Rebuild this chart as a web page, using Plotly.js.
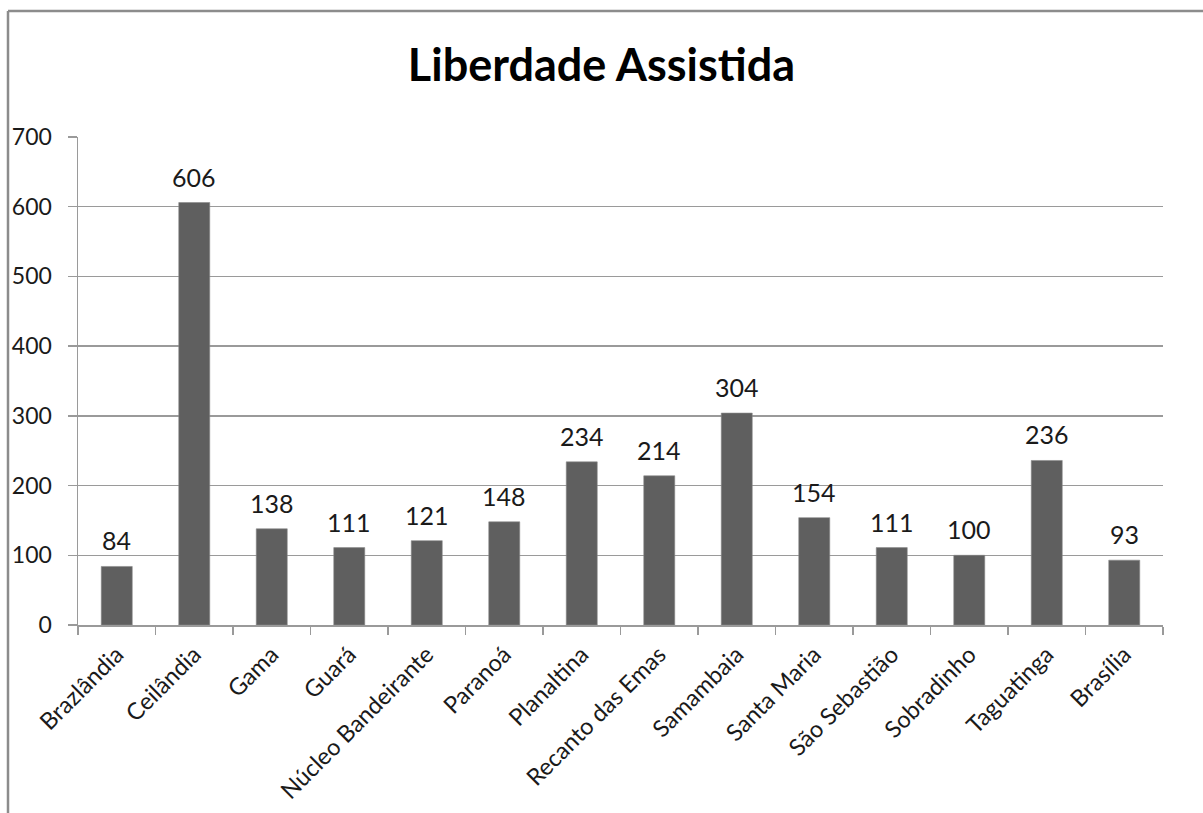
<!DOCTYPE html>
<html>
<head>
<meta charset="utf-8">
<script src="https://cdn.plot.ly/plotly-3.0.1.min.js"></script>
<style>html,body{margin:0;padding:0;background:#fff;}#chart{width:1203px;height:813px;}</style>
</head>
<body>
<div id="chart"></div>
<script>
const categories = ["Brazlândia","Ceilândia","Gama","Guará","Núcleo Bandeirante","Paranoá","Planaltina","Recanto das Emas","Samambaia","Santa Maria","São Sebastião","Sobradinho","Taguatinga","Brasília"];
const values = [84,606,138,111,121,148,234,214,304,154,111,100,236,93];
const yTicks = [0,100,200,300,400,500,600,700];

const W = 1203, H = 813;
const m = {l:78, r:40, t:137, b:188};
const pw = W - m.l - m.r, ph = H - m.t - m.b;
const px = v => (v - m.l) / pw;
const py = v => (H - m.b - v) / ph;

const font = "Lato, 'Open Sans', sans-serif";

const trace = {
  type: "bar",
  x: categories,
  y: values,
  marker: {color: "#5f5f5f", line: {color: "#8a8a8a", width: 0.6}},
  hoverinfo: "none"
};

const annotations = categories.map((c, i) => ({
  x: c, y: values[i], xref: "x", yref: "y",
  text: String(values[i]), showarrow: false,
  yanchor: "bottom", yshift: 9,
  font: {family: font, size: 25, color: "#1a1a1a"}
}));

const layout = {
  width: W, height: H,
  margin: m,
  paper_bgcolor: "#fff", plot_bgcolor: "#fff",
  showlegend: false,
  bargap: 0.6,
  title: {text: "<b>Liberdade Assistida</b>", x: 0.5, xanchor: "center", y: 1 - 65/H, yanchor: "middle",
          font: {family: font, size: 45, color: "#000"}},
  xaxis: {
    type: "category",
    tickson: "boundaries",
    ticks: "outside", ticklen: 8, tickcolor: "#9a9a9a", tickwidth: 1.5,
    ticklabelstandoff: 5,
    showline: true, linecolor: "#9a9a9a", linewidth: 1.5,
    tickangle: -45,
    tickfont: {family: font, size: 23.5, color: "#1a1a1a"},
    showgrid: false, fixedrange: true
  },
  yaxis: {
    range: [0, 700],
    tickvals: yTicks,
    ticktext: yTicks.map(String),
    ticks: "outside", ticklen: 9, tickcolor: "#9a9a9a", tickwidth: 1.5,
    ticklabelstandoff: 11,
    showline: true, linecolor: "#9a9a9a", linewidth: 1.5,
    showgrid: true, gridcolor: "#9a9a9a", gridwidth: 1.5,
    zeroline: false,
    tickfont: {family: font, size: 23, color: "#1a1a1a"},
    fixedrange: true
  },
  annotations: annotations,
  shapes: [
    {type: "line", xref: "paper", yref: "paper", x0: px(8), x1: px(1210), y0: py(11), y1: py(11),
     line: {color: "#8c8c8c", width: 2.5}},
    {type: "line", xref: "paper", yref: "paper", x0: px(8), x1: px(8), y0: py(11), y1: py(820),
     line: {color: "#8c8c8c", width: 2.5}}
  ]
};

Plotly.newPlot("chart", [trace], layout, {displayModeBar: false, staticPlot: true});
</script>
</body>
</html>
